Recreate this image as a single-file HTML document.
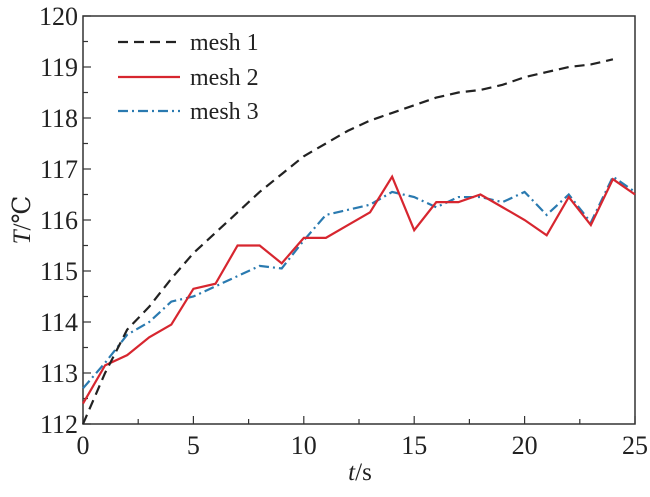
<!DOCTYPE html>
<html><head><meta charset="utf-8"><style>
html,body{margin:0;padding:0;background:#fff;}
svg, svg text{font-family:"Liberation Serif","DejaVu Serif",serif;}
</style></head><body>
<svg id="s" width="650" height="492" viewBox="0 0 650 492" xmlns="http://www.w3.org/2000/svg" font-family="Liberation Serif, DejaVu Serif, serif">
<rect x="83" y="16" width="552" height="408" fill="none" stroke="#333" stroke-width="1.5"/>
<g id="ticks" stroke="#333" stroke-width="1.2"></g>
<g id="labels" font-size="26" fill="#222" font-family="Liberation Serif, serif"></g>
<text x="360" y="480" font-size="25" fill="#222" text-anchor="middle" font-family="Liberation Serif, serif"><tspan font-style="italic">t</tspan>/s</text>
<text transform="translate(30,220) rotate(-90)" font-size="25" fill="#222" text-anchor="middle" font-family="Liberation Serif, serif"><tspan font-style="italic">T</tspan>/℃</text>
<g id="series" fill="none"></g>
<g font-size="24" fill="#222" font-family="Liberation Serif, serif">
<line x1="118" y1="42" x2="180" y2="42" stroke="#222" stroke-width="2.2" stroke-dasharray="10,6"/>
<text x="190" y="50">mesh 1</text>
<line x1="118" y1="77" x2="180" y2="77" stroke="#d7262f" stroke-width="2.2"/>
<text x="190" y="85">mesh 2</text>
<line x1="118" y1="111" x2="180" y2="111" stroke="#2a7ab0" stroke-width="2.2" stroke-dasharray="10,4,2,4"/>
<text x="190" y="119">mesh 3</text>
</g>
</svg>
<script>
const X=t=>83+t*552/25, Y=v=>424-(v-112)*51;
const NS="http://www.w3.org/2000/svg";
const tk=document.getElementById('ticks'), lb=document.getElementById('labels');
function el(p,tag,a,txt){const e=document.createElementNS(NS,tag);for(const k in a)e.setAttribute(k,a[k]);if(txt!=null)e.textContent=txt;p.appendChild(e);}
for(let t=0;t<=25;t+=2.5){const len=t%5==0?8:5;el(tk,'line',{x1:X(t),y1:424,x2:X(t),y2:424-len});
 if(t%5==0)el(lb,'text',{x:X(t),y:454,'text-anchor':'middle'},t);}
for(let v=112;v<=120;v+=0.5){const len=v%1==0?8:5;el(tk,'line',{x1:83,y1:Y(v),x2:83+len,y2:Y(v)});
 if(v%1==0)el(lb,'text',{x:78,y:Y(v)+9,'text-anchor':'end'},v);}
const m1=[112,113,113.85,114.3,114.85,115.35,115.75,116.15,116.55,116.9,117.25,117.5,117.75,117.95,118.1,118.25,118.4,118.5,118.55,118.65,118.8,118.9,119.0,119.05,119.15];
const m2=[112.4,113.15,113.35,113.7,113.95,114.65,114.75,115.5,115.5,115.15,115.65,115.65,115.9,116.15,116.85,115.8,116.35,116.35,116.5,116.25,116.0,115.7,116.45,115.9,116.8,116.5];
const m3=[112.7,113.2,113.75,114.0,114.4,114.5,114.7,114.9,115.1,115.05,115.6,116.1,116.2,116.3,116.55,116.45,116.25,116.45,116.45,116.35,116.55,116.1,116.5,115.95,116.85,116.55];
const sg=document.getElementById('series');
function pl(d,c,da){el(sg,'polyline',{points:d.map((v,i)=>X(i)+','+Y(v)).join(' '),stroke:c,'stroke-width':2.2,'stroke-dasharray':da||'none'});}
pl(m3,'#2a7ab0','10,4,2,4');
pl(m2,'#d7262f');
pl(m1,'#222','10,6');
</script>
</body></html>
